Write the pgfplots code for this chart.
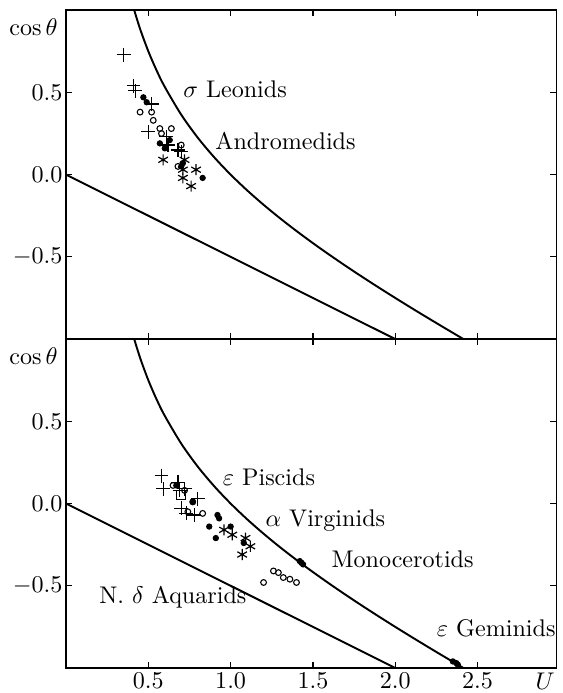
\documentclass[border=0pt]{standalone}
\usepackage{pgfplots}
\pgfplotsset{compat=1.18}
\pgfplotsset{
  panel/.style={
    scale only axis, width=203.6pt, height=136.5pt,
    xmin=0, xmax=2.98, ymin=-1, ymax=1,
    clip mode=individual,
    xtick={0.5,1.0,1.5,2.0,2.5}, ytick={-0.5,0,0.5},
    tick align=inside, major tick length=2.6pt,
    tick style={line width=0.5pt, black},
    axis line style={line width=0.6pt},
    xticklabel style={inner sep=0pt, yshift=-2pt, /pgf/number format/.cd, fixed, fixed zerofill, precision=1},
    yticklabel style={inner sep=0pt, xshift=-1.3pt, /pgf/number format/.cd, fixed, fixed zerofill, precision=1},
  },
  curve/.style={line width=0.8pt, black, no markers},
  pl/.style={only marks, mark=+, mark size=2.9pt, mark options={line width=0.5pt}, black},
  fd/.style={only marks, mark=*, mark size=1.1pt, black},
  od/.style={only marks, mark=o, mark size=1.2pt, mark options={line width=0.45pt}, black},
  as/.style={only marks, mark=asterisk, mark size=2.3pt, mark options={line width=0.5pt}, black},
}
\pgfplotstableread{
U c
0.41 1.0145
0.45 0.8861
0.50 0.75
0.55 0.6341
0.60 0.5333
0.70 0.3643
0.80 0.225
0.90 0.1056
1.00 0
1.10 -0.0955
1.20 -0.1833
1.30 -0.2654
1.40 -0.3429
1.50 -0.4167
1.60 -0.4875
1.70 -0.5559
1.80 -0.6222
1.90 -0.6868
2.00 -0.75
2.10 -0.8119
2.20 -0.8727
2.30 -0.9326
2.40 -0.9917
2.42 -1.0034
}\parab
\begin{document}
\begin{tikzpicture}
\useasboundingbox (-27.39pt,-10.375pt) rectangle (205.84pt,277.22pt);
% bottom panel
\begin{axis}[panel, at={(0,0)}, anchor=south west]
\addplot[curve, smooth] table[x=U,y=c] {\parab};
\addplot[curve] coordinates {(0,0) (2,-1)};
\addplot[pl] coordinates {(0.58,0.17) (0.59,0.09) (0.68,0.13) (0.69,0.08) (0.72,0.09) (0.80,0.03) (0.70,-0.03) (0.73,-0.06) (0.78,-0.07)};
\addplot[only marks, mark=square, mark size=1.9pt, mark options={line width=0.45pt}, black] coordinates {(0.70,0.05)};
\addplot[od] coordinates {(0.65,0.11) (0.72,0.08) (0.77,0.01) (0.74,-0.05) (0.83,-0.06) (1.20,-0.48) (1.26,-0.41) (1.29,-0.42) (1.32,-0.45) (1.36,-0.46) (1.40,-0.48)};
\addplot[fd] coordinates {(0.67,0.11) (0.77,0.01) (0.92,-0.07) (0.93,-0.09) (0.87,-0.14) (0.91,-0.21) (1.00,-0.14) (1.08,-0.24) (1.42,-0.35) (1.43,-0.36) (1.44,-0.37) (2.35,-0.96) (2.37,-0.97) (2.38,-0.98)};
\addplot[as] coordinates {(0.96,-0.16) (1.01,-0.19) (1.09,-0.21) (1.12,-0.26) (1.07,-0.31)};
\node[anchor=base west, inner sep=0pt] at (axis cs:0.95,0.11) {$\varepsilon$ Piscids};
\node[anchor=base west, inner sep=0pt] at (axis cs:1.21,-0.14) {$\alpha$ Virginids};
\node[anchor=base west, inner sep=0pt] at (axis cs:1.61,-0.39) {Monocerotids};
\node[anchor=base west, inner sep=0pt] at (axis cs:2.25,-0.81) {$\varepsilon$ Geminids};
\node[anchor=base west, inner sep=0pt] at (axis cs:0.20,-0.61) {N. $\delta$ Aquarids};
\node[anchor=north, inner sep=0pt] at (axis cs:2.91,-1) [yshift=-2pt] {$U$};
\node[anchor=east, inner sep=0pt] at (rel axis cs:0,1) [xshift=-3.3pt, yshift=-7pt] {$\cos\theta$};
\end{axis}
% top panel
\begin{axis}[panel, at={(0,136.5pt)}, anchor=south west, xticklabels={}]
\addplot[curve, smooth] table[x=U,y=c] {\parab};
\addplot[curve] coordinates {(0,0) (2,-1)};
\addplot[pl] coordinates {(0.35,0.73) (0.41,0.54) (0.42,0.51) (0.52,0.43) (0.50,0.26) (0.61,0.23) (0.62,0.18) (0.68,0.15) (0.70,0.14)};
\addplot[fd] coordinates {(0.47,0.47) (0.49,0.44) (0.57,0.19) (0.60,0.16) (0.63,0.21) (0.71,0.07) (0.70,0.05) (0.83,-0.02)};
\addplot[od] coordinates {(0.45,0.38) (0.52,0.38) (0.53,0.33) (0.57,0.28) (0.64,0.28) (0.58,0.25) (0.70,0.18) (0.68,0.05)};
\addplot[as] coordinates {(0.59,0.09) (0.72,0.09) (0.71,0.03) (0.79,0.03) (0.71,-0.02) (0.76,-0.07)};
\node[anchor=base west, inner sep=0pt] at (axis cs:0.71,0.47) {$\sigma$ Leonids};
\node[anchor=base west, inner sep=0pt] at (axis cs:0.905,0.15) {Andromedids};
\node[anchor=east, inner sep=0pt] at (rel axis cs:0,1) [xshift=-3.3pt, yshift=-7pt] {$\cos\theta$};
\end{axis}
\end{tikzpicture}
\end{document}
